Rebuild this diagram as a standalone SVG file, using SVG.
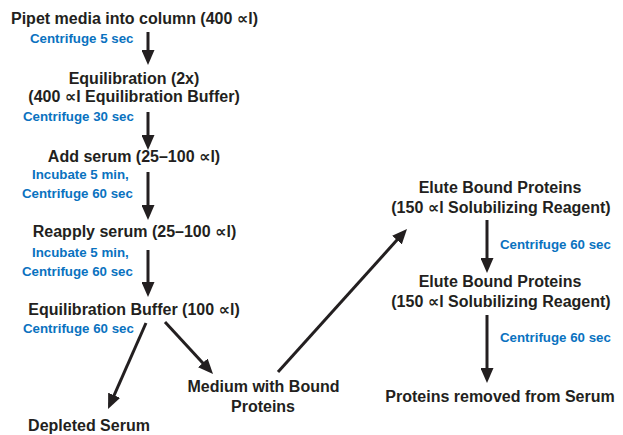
<svg xmlns="http://www.w3.org/2000/svg" width="623" height="435" viewBox="0 0 623 435">
<style>
.t{font-family:"Liberation Sans",Arial,"DejaVu Sans",sans-serif;font-weight:bold;font-size:16px;fill:#231f20;text-anchor:middle}
.b{font-family:"Liberation Sans",Arial,"DejaVu Sans",sans-serif;font-weight:bold;font-size:13.3px;fill:#0a72bf}
.c{stroke:#231f20;stroke-width:3;fill:none;marker-end:url(#ah)}
</style>
<defs>
<marker id="ah" markerUnits="userSpaceOnUse" markerWidth="15" markerHeight="13" refX="2" refY="6.5" orient="auto" viewBox="0 0 15 13">
<path d="M0,0 L15,6.5 L0,13 z" fill="#231f20"/>
</marker>
</defs>
<g id="n1"><text class="t" x="134.5" y="24">Pipet media into column (400 ∝l)</text></g>
<g id="n2"><text class="t" x="134" y="84">Equilibration (2x)</text><text class="t" x="134" y="102">(400 ∝l Equilibration Buffer)</text></g>
<g id="n3"><text class="t" x="134" y="162">Add serum (25–100 ∝l)</text></g>
<g id="n4"><text class="t" x="134.5" y="237">Reapply serum (25–100 ∝l)</text></g>
<g id="n5"><text class="t" x="134" y="315">Equilibration Buffer (100 ∝l)</text></g>
<g id="n6"><text class="t" x="89" y="431">Depleted Serum</text></g>
<g id="n7"><text class="t" x="263.5" y="392">Medium with Bound</text><text class="t" x="263" y="412">Proteins</text></g>
<g id="n8"><text class="t" x="500" y="193">Elute Bound Proteins</text><text class="t" x="501" y="213">(150 ∝l Solubilizing Reagent)</text></g>
<g id="n9"><text class="t" x="500" y="287">Elute Bound Proteins</text><text class="t" x="501" y="307">(150 ∝l Solubilizing Reagent)</text></g>
<g id="n10"><text class="t" x="500" y="402">Proteins removed from Serum</text></g>
<g id="labels">
<text class="b" x="30" y="43">Centrifuge 5 sec</text>
<text class="b" x="23" y="121">Centrifuge 30 sec</text>
<text class="b" x="32" y="179">Incubate 5 min,</text>
<text class="b" x="22" y="198">Centrifuge 60 sec</text>
<text class="b" x="32" y="257">Incubate 5 min,</text>
<text class="b" x="22" y="276">Centrifuge 60 sec</text>
<text class="b" x="23" y="333">Centrifuge 60 sec</text>
<text class="b" x="500" y="249">Centrifuge 60 sec</text>
<text class="b" x="500" y="342">Centrifuge 60 sec</text>
</g>
<g id="connectors">
<line class="c" x1="148" y1="32" x2="148" y2="52"/>
<line class="c" x1="148" y1="112" x2="148" y2="137"/>
<line class="c" x1="148" y1="172" x2="148" y2="207"/>
<line class="c" x1="148" y1="250" x2="148" y2="284"/>
<line class="c" x1="146" y1="323" x2="113.3" y2="397.1"/>
<line class="c" x1="165" y1="322" x2="204.2" y2="364.4"/>
<line class="c" x1="278" y1="372" x2="398.3" y2="238.6"/>
<line class="c" x1="487" y1="220" x2="487" y2="260"/>
<line class="c" x1="487" y1="315" x2="487" y2="370"/>
</g>
</svg>
